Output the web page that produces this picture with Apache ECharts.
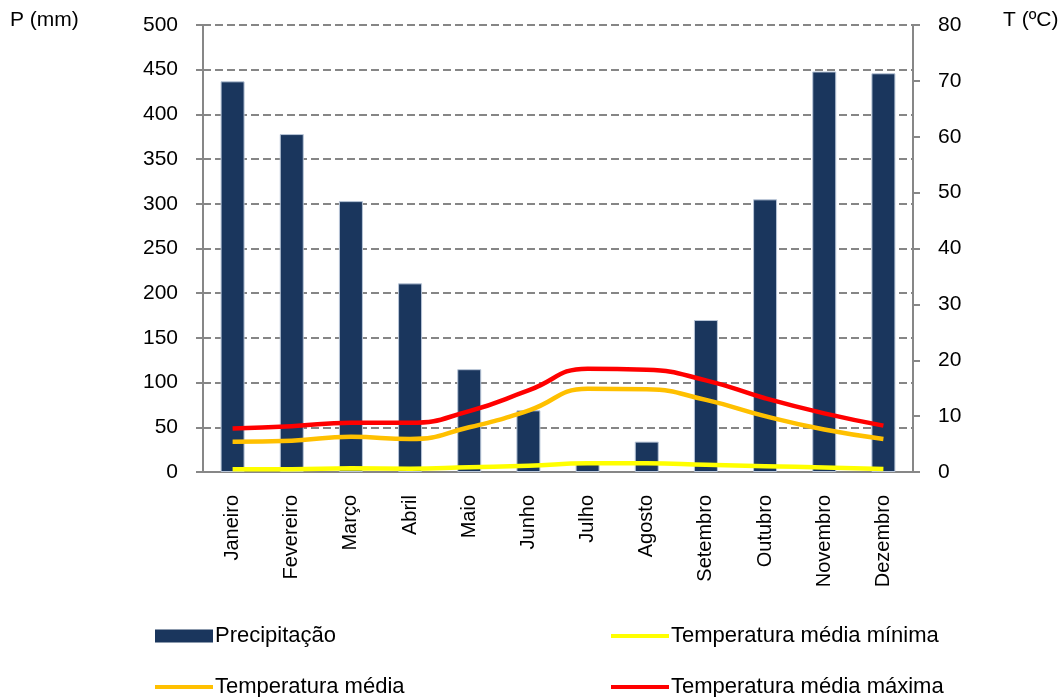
<!DOCTYPE html>
<html>
<head>
<meta charset="utf-8">
<script src="https://cdn.jsdelivr.net/npm/echarts@6/dist/echarts.min.js"></script>
<style>
  html, body { margin: 0; padding: 0; background: #fff; }
  #chart { width: 1063px; height: 697px; }
</style>
</head>
<body>
<div id="chart"></div>
<script>
// Monthly climate normals: precipitation (mm) and temperatures (ºC)
const months = ['Janeiro', 'Fevereiro', 'Março', 'Abril', 'Maio', 'Junho',
                'Julho', 'Agosto', 'Setembro', 'Outubro', 'Novembro', 'Dezembro'];
const precipitacao = [437, 378, 303, 211, 115, 69, 11, 34, 170, 305, 448, 446];
const tempMin = [0.5, 0.5, 0.65, 0.6, 0.85, 1.1, 1.55, 1.55, 1.3, 1.05, 0.8, 0.55];
const tempMedia = [5.4, 5.6, 6.3, 5.9, 8.0, 11.0, 14.9, 14.8, 12.9, 10.0, 7.6, 5.9];
const tempMax = [7.8, 8.2, 8.8, 8.8, 10.9, 14.6, 18.5, 18.3, 16.4, 13.2, 10.5, 8.3];
const pTicks = { min: 0, max: 500, step: 50 };
const tTicks = { min: 0, max: 80, step: 10 };

const FONT = '"Liberation Sans", Arial, sans-serif';
const AXIS_GRAY = '#878787';

const chart = echarts.init(document.getElementById('chart'), null, { renderer: 'canvas' });

const legendText = { fontFamily: FONT, fontSize: 22, color: '#000' };
function legendAt(name, left, top, rect) {
  return {
    data: [name], left: left, top: top,
    itemWidth: 58, itemHeight: rect ? 13 : 4, itemGap: 0,
    icon: 'rect',
    itemStyle: { borderWidth: 0 },
    textStyle: Object.assign({ padding: [0, 0, 0, -3] }, legendText),
    selectedMode: false
  };
}

chart.setOption({
  animation: false,
  backgroundColor: '#fff',
  grid: { left: 203, right: 150, top: 25, bottom: 225 },
  graphic: [
    { type: 'text', left: 10, top: 10, style: { text: 'P (mm)', font: '21px ' + FONT, fill: '#000' } },
    { type: 'text', left: 1003, top: 10, style: { text: 'T (ºC)', font: '21px ' + FONT, fill: '#000' } }
  ],
  legend: [
    legendAt('Precipitação', 150, 620, true),
    legendAt('Temperatura média mínima', 606, 620, false),
    legendAt('Temperatura média', 150, 671, false),
    legendAt('Temperatura média máxima', 606, 671, false)
  ],
  xAxis: {
    type: 'category',
    data: months,
    boundaryGap: true,
    axisLine: { lineStyle: { color: AXIS_GRAY, width: 2 } },
    axisTick: { length: 7, lineStyle: { color: AXIS_GRAY, width: 2 } },
    axisLabel: { rotate: 90, margin: 23, fontFamily: FONT, fontSize: 20, color: '#000', interval: 0 }
  },
  yAxis: [
    {
      type: 'value', min: pTicks.min, max: pTicks.max, interval: pTicks.step,
      axisLine: { show: true, lineStyle: { color: AXIS_GRAY, width: 2 } },
      axisTick: { show: true, length: 7, lineStyle: { color: AXIS_GRAY, width: 2 } },
      axisLabel: { margin: 25, fontFamily: FONT, fontSize: 21, color: '#000' },
      splitLine: { show: true, lineStyle: { color: '#868686', width: 2, type: [8, 4] } }
    },
    {
      type: 'value', position: 'right', min: tTicks.min, max: tTicks.max, interval: tTicks.step,
      axisLine: { show: true, lineStyle: { color: AXIS_GRAY, width: 2 } },
      axisTick: { show: true, length: 7, lineStyle: { color: AXIS_GRAY, width: 2 } },
      axisLabel: { margin: 25, fontFamily: FONT, fontSize: 21, color: '#000' },
      splitLine: { show: false }
    }
  ],
  series: [
    {
      name: 'Precipitação', type: 'bar', data: precipitacao, barWidth: 24, yAxisIndex: 0,
      itemStyle: { color: '#1a365d', borderColor: '#b9c6d8', borderWidth: 1 }
    },
    {
      name: 'Temperatura média mínima', type: 'line', data: tempMin, yAxisIndex: 1,
      smooth: 0.5, symbol: 'none', lineStyle: { color: '#ffff00', width: 4.5 }, itemStyle: { color: '#ffff00' }
    },
    {
      name: 'Temperatura média', type: 'line', data: tempMedia, yAxisIndex: 1,
      smooth: 0.5, symbol: 'none', lineStyle: { color: '#ffc000', width: 4.5 }, itemStyle: { color: '#ffc000' }
    },
    {
      name: 'Temperatura média máxima', type: 'line', data: tempMax, yAxisIndex: 1,
      smooth: 0.5, symbol: 'none', lineStyle: { color: '#ff0000', width: 4.5 }, itemStyle: { color: '#ff0000' }
    }
  ]
});
</script>
</body>
</html>
